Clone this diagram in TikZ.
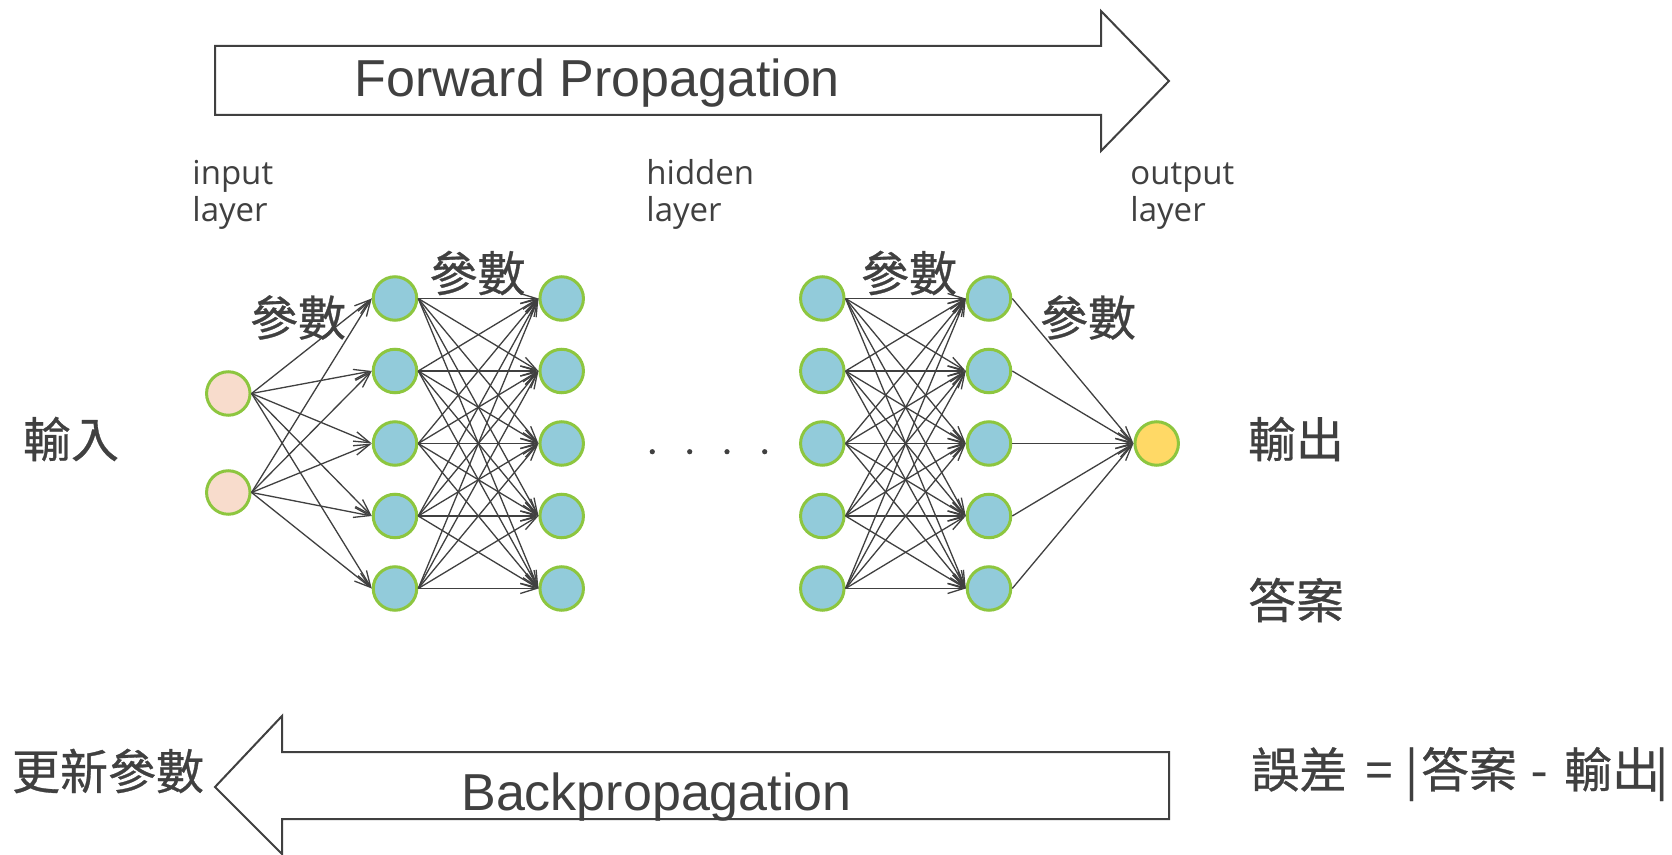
\documentclass[tikz,border=0pt]{standalone}
\usepackage{fontspec}
\setmainfont{Liberation Sans}
\newfontfamily\cjk[FakeBold=0.6]{Noto Sans CJK TC}
\newfontfamily\lbl{Open Sans}
\usetikzlibrary{arrows.meta}
\definecolor{ink}{HTML}{404040}
\definecolor{ringgreen}{HTML}{8DC63F}
\definecolor{inputfill}{HTML}{F8DCCC}
\definecolor{hiddenfill}{HTML}{92CBDA}
\definecolor{outputfill}{HTML}{FFD966}
\tikzset{
  neuron/.style={circle, draw=ringgreen, line width=1.5pt, minimum size=21.75pt, inner sep=0pt},
  innode/.style={neuron, fill=inputfill},
  hidnode/.style={neuron, fill=hiddenfill},
  outnode/.style={neuron, fill=outputfill},
  edge/.style={draw=ink, line width=0.65pt, -{Straight Barb[length=8pt,width=5pt]}},
  bigarrow/.style={draw=ink, line width=1pt, fill=white, line join=miter},
  cjklabel/.style={inner sep=0pt, text=ink, font=\cjk\fontsize{24}{28}\selectfont},
  layerlabel/.style={inner sep=0pt, anchor=base west, text=ink, font=\lbl\fontsize{16.5}{18.5}\selectfont},
  arrowtext/.style={inner sep=0pt, anchor=base west, text=ink, font=\fontsize{26}{30}\selectfont}
}
\begin{document}
\begin{tikzpicture}[x=0.5pt,y=-0.5pt]
\useasboundingbox (0,0) rectangle (1672,855);
\fill[white] (0,0) rectangle (1672,855);

% block arrows
\path[bigarrow] (215,46) -- (1101,46) -- (1101,11) -- (1169,81) -- (1101,151)
  -- (1101,115) -- (215,115) -- cycle;
\node[arrowtext] (fwd) at (354,96.7) {Forward Propagation};
\path[bigarrow] (1169,752) -- (282,752) -- (282,716) -- (215,787) -- (282,854)
  -- (282,819) -- (1169,819) -- cycle;
\node[arrowtext] (bwd) at (461,810) {Backpropagation};

% layer captions
\node[layerlabel] (lin1) at (192,185) {input};
\node[layerlabel] (lin2) at (192,222) {layer};
\node[layerlabel] (lhid1) at (646,185) {hidden};
\node[layerlabel] (lhid2) at (646,222) {layer};
\node[layerlabel] (lout1) at (1130,185) {output};
\node[layerlabel] (lout2) at (1130,222) {layer};

% neurons
\node[innode] (in1) at (228.3,393.5) {};
\node[innode] (in2) at (228.3,492.5) {};
\foreach \k/\y in {1/298.5,2/371,3/443.5,4/516,5/588.5}{
  \node[hidnode] (a\k) at (395,\y) {};
  \node[hidnode] (b\k) at (561.7,\y) {};
  \node[hidnode] (c\k) at (822.3,\y) {};
  \node[hidnode] (d\k) at (989,\y) {};
}
\node[outnode] (out) at (1156.7,443.5) {};

% weights
\foreach \i in {1,2}
  \foreach \j in {1,...,5}
    \draw[edge] (in\i.east) -- (a\j.west);
\foreach \i in {1,...,5}
  \foreach \j in {1,...,5}{
    \draw[edge] (a\i.east) -- (b\j.west);
    \draw[edge] (c\i.east) -- (d\j.west);
  }
\foreach \i in {1,...,5}
  \draw[edge] (d\i.east) -- (out.west);

% ellipsis between hidden layers
\foreach \x in {652.3,689.7,727,764.7}
  \fill[ink] (\x,451.7) circle (2.6);

% text labels
\node[cjklabel] (w1) at (298,317.5) {參數};
\node[cjklabel] (w2) at (477.5,273) {參數};
\node[cjklabel] (w3) at (909,273) {參數};
\node[cjklabel] (w4) at (1088,317.5) {參數};
\node[cjklabel] (inp) at (71,439) {輸入};
\node[cjklabel] (outp) at (1296,439) {輸出};
\node[cjklabel] (ans) at (1296,600) {答案};
\node[cjklabel] (upd) at (108,771) {更新參數};
\node[cjklabel, anchor=west] (err) at (1251,774)
  {誤差\hspace{3.75pt} =\hspace{1pt} |\hspace{1.5pt}答案\hspace{1.5pt} -\hspace{3pt} 輸出\hspace{-2.5pt}|};
\end{tikzpicture}
\end{document}
